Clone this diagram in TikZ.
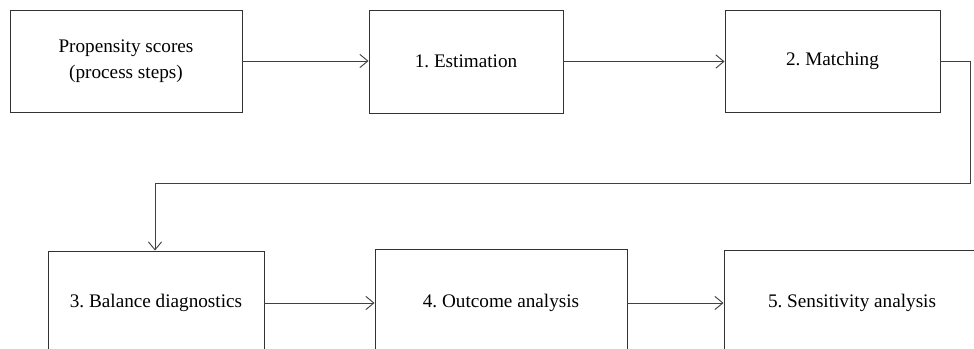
\documentclass[tikz,border=0pt]{standalone}
\usepackage{fontspec}
\setmainfont{Liberation Serif}
\usepackage{tikz}
\usetikzlibrary{arrows.meta,positioning}
\frenchspacing

\begin{document}
\begin{tikzpicture}[font=\fontsize{14.4}{19.5}\selectfont, x=0.75pt, y=-0.75pt,
    stage/.style={draw=black!80, line width=0.7pt, rectangle, align=center, inner sep=0pt},
    flow/.style={draw=black!75, line width=0.7pt, -{Straight Barb[length=6pt, width=10pt]}}]
  \useasboundingbox (0,0) rectangle (974,349);
  \clip (0,0) rectangle (974,349);
  % Top row
  \node[stage, minimum width=232*0.75pt, minimum height=102*0.75pt] (prop) at (126,61)
      {Propensity scores\\(process steps)};
  \node[stage, minimum width=194*0.75pt, minimum height=103*0.75pt] (est) at (466,61.5)
      {1. Estimation};
  \node[stage, minimum width=215*0.75pt, minimum height=102*0.75pt] (match) at (832.5,61)
      {2. Matching};
  % Bottom row (cut at the lower edge)
  \node[stage, minimum width=216*0.75pt, minimum height=104*0.75pt] (bal) at (156,303)
      {3. Balance diagnostics};
  \node[stage, minimum width=252*0.75pt, minimum height=108*0.75pt] (out) at (501,303)
      {4. Outcome analysis};
  \node[stage, minimum width=256*0.75pt, minimum height=106*0.75pt] (sens) at (852,303)
      {5. Sensitivity analysis};
  % Connectors
  \coordinate (turnA) at (970,61);
  \coordinate (turnB) at (970,183);
  \coordinate (turnC) at (155,183);
  \draw[flow] (prop.east) -- (est.west |- prop.east);
  \draw[flow] (est.east) -- (match.west |- est.east);
  \draw[flow] (match.east) -- (turnA) -- (turnB) -- (turnC) -- (bal.north -| turnC);
  \draw[flow] (bal.east) -- (out.west);
  \draw[flow] (out.east) -- (sens.west);
\end{tikzpicture}
\end{document}
